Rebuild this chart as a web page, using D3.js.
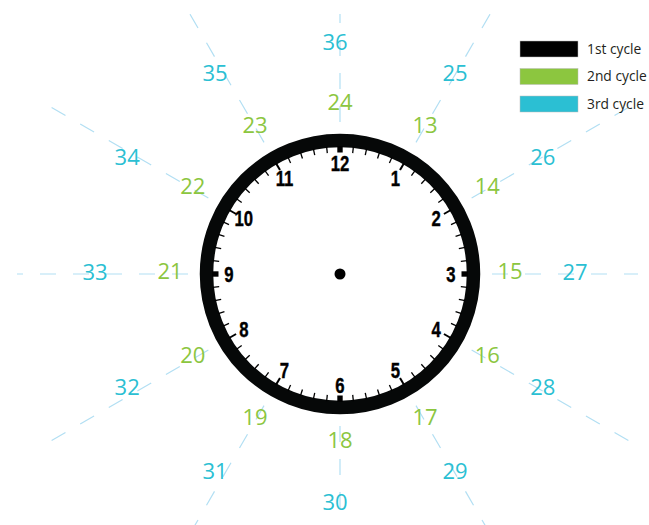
<!DOCTYPE html>
<html>
<head>
<meta charset="utf-8">
<script src="https://cdn.jsdelivr.net/npm/d3@7"></script>
<style>
  html, body { margin: 0; padding: 0; background: #ffffff; }
  svg { display: block; }
</style>
</head>
<body>
<svg id="chart" width="649" height="525"></svg>
<script>
// ---- data ----
const firstCycle  = [1, 2, 3, 4, 5, 6, 7, 8, 9, 10, 11, 12];
const secondCycle = [13, 14, 15, 16, 17, 18, 19, 20, 21, 22, 23, 24];
const thirdCycle  = [25, 26, 27, 28, 29, 30, 31, 32, 33, 34, 35, 36];
const minutes     = d3.range(60);
const legendLabels = ["1st cycle", "2nd cycle", "3rd cycle"];

// ---- styles ----
const colors = { first: "#000000", second: "#8cc63f", third: "#2bbfd3", guide: "#b2dff3", text: "#231f20" };

const svg = d3.select("#chart");
const cx = 340, cy = 274;

// angle scales (radians, 0 at 12 o'clock, clockwise)
const hourAngle = d3.scaleLinear().domain([0, 12]).range([0, 2 * Math.PI]);
const minuteAngle = d3.scaleLinear().domain([0, 60]).range([0, 2 * Math.PI]);
const px = (a, r) => cx + r * Math.sin(a);
const py = (a, r) => cy - r * Math.cos(a);

// clip for guide lines
svg.append("defs").append("clipPath").attr("id", "guideClip")
  .append("rect").attr("x", 17).attr("y", 14).attr("width", 621).attr("height", 520);

// ---- dashed radial guides ----
const guideR = d3.scaleLinear().domain([0, 1]).range([152, 338]);
svg.append("g").attr("clip-path", "url(#guideClip)")
  .selectAll("line").data(firstCycle).join("line")
  .attr("x1", d => px(hourAngle(d % 12), guideR(0)))
  .attr("y1", d => py(hourAngle(d % 12), guideR(0)))
  .attr("x2", d => px(hourAngle(d % 12), guideR(1)))
  .attr("y2", d => py(hourAngle(d % 12), guideR(1)))
  .attr("stroke", colors.guide)
  .attr("stroke-width", 1.2)
  .attr("stroke-dasharray", "16,17");

// ---- clock face ----
const clock = svg.append("g");
clock.append("circle").attr("cx", cx).attr("cy", cy).attr("r", 127).attr("fill", "#fff");
clock.append("circle").attr("cx", cx).attr("cy", cy).attr("r", 133.5)
  .attr("fill", "none").attr("stroke", "#060808").attr("stroke-width", 13.5);

// minute ticks
clock.selectAll("line.min").data(minutes.filter(m => m % 5 !== 0)).join("line")
  .attr("class", "min")
  .attr("x1", d => px(minuteAngle(d), 121.5)).attr("y1", d => py(minuteAngle(d), 121.5))
  .attr("x2", d => px(minuteAngle(d), 128)).attr("y2", d => py(minuteAngle(d), 128))
  .attr("stroke", "#000").attr("stroke-width", 1.3);

// hour ticks (non-quarter)
clock.selectAll("line.hr").data(firstCycle.filter(h => h % 3 !== 0)).join("line")
  .attr("class", "hr")
  .attr("x1", d => px(hourAngle(d), 120)).attr("y1", d => py(hourAngle(d), 120))
  .attr("x2", d => px(hourAngle(d), 128)).attr("y2", d => py(hourAngle(d), 128))
  .attr("stroke", "#000").attr("stroke-width", 2);

// quarter marks
clock.selectAll("rect.q").data(firstCycle.filter(h => h % 3 === 0)).join("rect")
  .attr("class", "q")
  .attr("x", -2.7).attr("y", -128).attr("width", 5.4).attr("height", 6.5)
  .attr("fill", "#000")
  .attr("transform", d => `translate(${cx},${cy}) rotate(${hourAngle(d) * 180 / Math.PI})`);

// hour numbers (bold, horizontally condensed)
clock.selectAll("text.num").data(firstCycle).join("text")
  .attr("class", "num")
  .attr("transform", d => `translate(${px(hourAngle(d), 111)},${py(hourAngle(d), 111)}) scale(0.76,1)`)
  .attr("dy", "0.36em")
  .attr("text-anchor", "middle")
  .attr("font-family", "'Liberation Sans', Arial, sans-serif")
  .attr("font-weight", "bold")
  .attr("font-size", 22)
  .attr("fill", "#000")
  .attr("stroke", "#000").attr("stroke-width", 0.4)
  .text(d => d);

// center dot
clock.append("circle").attr("cx", cx).attr("cy", cy).attr("r", 5.5).attr("fill", "#000");

// ---- cycle labels ----
function cycleLabels(data, rx, ry, ox, oy, color) {
  svg.append("g").selectAll("text").data(data).join("text")
    .attr("x", d => ox + rx * Math.sin(hourAngle(d % 12)))
    .attr("y", d => oy - ry * Math.cos(hourAngle(d % 12)))
    .attr("dy", "0.36em")
    .attr("text-anchor", "middle")
    .attr("font-family", "'Open Sans', 'Noto Sans', sans-serif")
    .attr("font-size", 22)
    .attr("fill", color)
    .text(d => d);
}
cycleLabels(secondCycle, 170, 169, cx, cy - 3, colors.second);
cycleLabels(thirdCycle, 240, 230, cx - 5, cy - 2, colors.third);

// ---- legend ----
const legendColors = [colors.first, colors.second, colors.third];
const ly = d3.scalePoint().domain(legendLabels).range([49, 104]);
const legend = svg.append("g");
legend.selectAll("rect").data(legendLabels).join("rect")
  .attr("x", 520).attr("y", d => ly(d) - 8).attr("width", 58).attr("height", 16)
  .attr("fill", (d, i) => legendColors[i])
  .attr("stroke", "#bbb").attr("stroke-width", 0.5);
legend.selectAll("text").data(legendLabels).join("text")
  .attr("x", 587).attr("y", d => ly(d)).attr("dy", "0.35em")
  .attr("font-family", "'Open Sans', 'Noto Sans', sans-serif")
  .attr("font-size", 13.8)
  .attr("fill", colors.text)
  .text(d => d);
</script>
</body>
</html>
